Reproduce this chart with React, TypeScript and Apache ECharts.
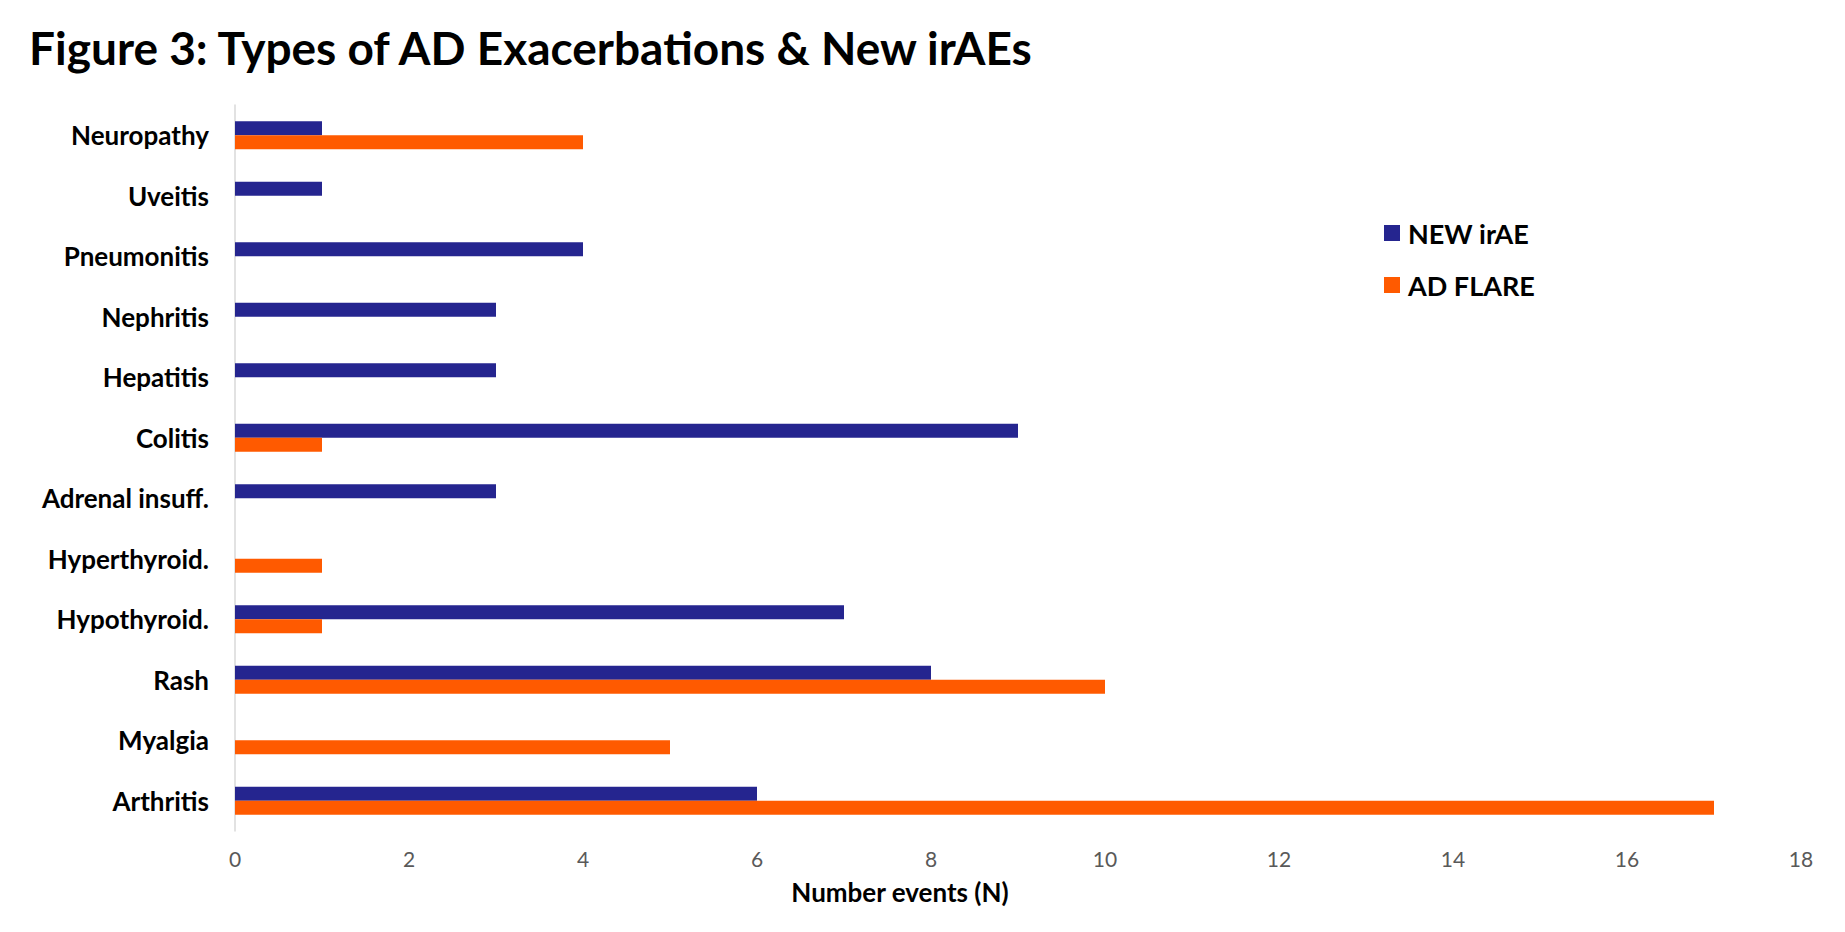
import React, { useEffect, useRef } from "react";
import * as echarts from "echarts";

const categories = [
  "Arthritis",
  "Myalgia",
  "Rash",
  "Hypothyroid.",
  "Hyperthyroid.",
  "Adrenal insuff.",
  "Colitis",
  "Hepatitis",
  "Nephritis",
  "Pneumonitis",
  "Uveitis",
  "Neuropathy",
];
const newIrAE = [6, 0, 8, 7, 0, 3, 9, 3, 3, 4, 1, 1];
const adFlare = [17, 5, 10, 1, 1, 0, 1, 0, 0, 0, 0, 4];
const xTicks = { min: 0, max: 18, interval: 2 };

const FONT = "Lato";

export default function App() {
  const ref = useRef<HTMLDivElement>(null);
  useEffect(() => {
    if (!ref.current) return;
    const chart = echarts.init(ref.current, undefined, { renderer: "svg" });
    chart.setOption({
      animation: false,
      backgroundColor: "#ffffff",
      title: {
        text: "Figure 3: Types of AD Exacerbations & New irAEs",
        left: 24,
        top: 19,
        textStyle: { fontFamily: FONT, fontWeight: "bold", fontSize: 46, color: "#000" },
      },
      legend: {
        orient: "vertical",
        left: 1379,
        top: 213,
        icon: "rect",
        itemWidth: 16,
        itemHeight: 16,
        itemGap: 22,
        textStyle: {
          fontFamily: FONT,
          fontWeight: "bold",
          fontSize: 27,
          lineHeight: 30,
          color: "#000",
          padding: [0, 0, 0, 3],
        },
        data: ["NEW irAE", "AD FLARE"],
      },
      grid: { left: 235, right: 44, top: 105, bottom: 101, containLabel: false },
      xAxis: {
        type: "value",
        min: xTicks.min,
        max: xTicks.max,
        interval: xTicks.interval,
        axisLine: { show: false },
        axisTick: { show: false },
        splitLine: { show: false },
        axisLabel: { fontFamily: FONT, fontSize: 21, color: "#595959", margin: 17 },
        name: "Number events (N)",
        nameLocation: "middle",
        nameGap: 48,
        nameTextStyle: {
          fontFamily: FONT,
          fontWeight: "bold",
          fontSize: 26,
          color: "#000",
          padding: [0, 236, 0, 0],
        },
      },
      yAxis: {
        type: "category",
        data: categories,
        axisLine: { show: true, lineStyle: { color: "#d9d9d9", width: 1.5 } },
        axisTick: { show: false },
        axisLabel: { fontFamily: FONT, fontWeight: "bold", fontSize: 26, color: "#000", margin: 26 },
      },
      series: [
        {
          name: "NEW irAE",
          type: "bar",
          data: newIrAE,
          barWidth: 14,
          barGap: "0%",
          itemStyle: { color: "#25258F" },
        },
        {
          name: "AD FLARE",
          type: "bar",
          data: adFlare,
          barWidth: 14,
          barGap: "0%",
          itemStyle: { color: "#FF5A00" },
        },
      ],
    });
    return () => chart.dispose();
  }, []);
  return (
    <div
      ref={ref}
      style={{ position: "fixed", left: 0, top: 0, width: "1845px", height: "932px" }}
    />
  );
}
